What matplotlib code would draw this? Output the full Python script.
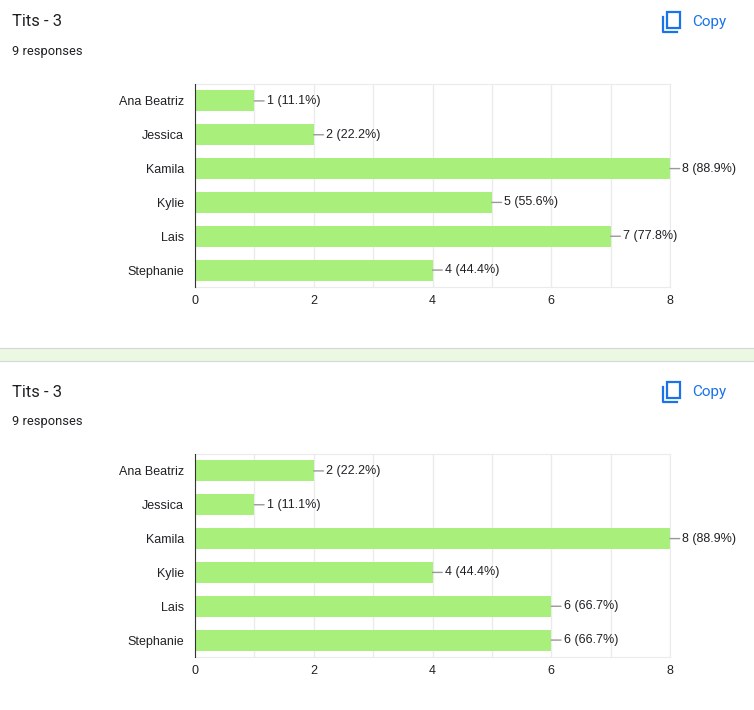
import matplotlib
matplotlib.use("Agg")
import matplotlib.pyplot as plt
from matplotlib.patches import Rectangle
from matplotlib.lines import Line2D

# names and counts for the two charts
names = ["Ana Beatriz", "Jessica", "Kamila", "Kylie", "Lais", "Stephanie"]
counts_top = [1, 2, 8, 5, 7, 4]
counts_bottom = [2, 1, 8, 4, 6, 6]
total_responses = 9
title = "Tits - 3"
x_ticks = [0, 2, 4, 6, 8]

W, H = 754, 710
BAR = "#a8f07b"
BLUE = "#1a73e8"
TXT = "#202124"

fig = plt.figure(figsize=(W / 100, H / 100), dpi=100)


def px_rect(left, top, right, bottom):
    # pixel box -> figure fraction
    return [left / W, 1 - bottom / H, (right - left) / W, (bottom - top) / H]


def header(y):
    fig.text(12 / W, 1 - y / H, title, fontsize=12, color=TXT,
             family="Roboto", va="center", ha="left")
    fig.text(12 / W, 1 - (y + 29) / H, f"{total_responses} responses",
             fontsize=9.3, color=TXT, family="Roboto", va="center", ha="left")
    fig.text(692 / W, 1 - y / H, "Copy", fontsize=11, color=BLUE,
             family="Roboto", va="center", ha="left")
    # copy icon
    fig.add_artist(Rectangle((667 / W, 1 - (y + 6) / H), 13 / W, 16 / H,
                             fill=False, ec=BLUE, lw=1.6,
                             transform=fig.transFigure))
    fig.add_artist(Line2D([663 / W, 663 / W, 677 / W],
                          [1 - (y - 5) / H, 1 - (y + 10) / H, 1 - (y + 10) / H],
                          color=BLUE, lw=1.6, transform=fig.transFigure))


def chart(top, bottom, counts):
    ax = fig.add_axes(px_rect(195, top, 670, bottom))
    ypos = list(range(len(names)))
    ax.barh(ypos, counts, height=0.62, color=BAR, zorder=2)
    ax.set_xlim(0, 8)
    ax.set_ylim(len(names) - 0.5, -0.5)
    ax.set_yticks(ypos)
    ax.set_yticklabels(names, fontsize=9, color=TXT, family="Liberation Sans")
    ax.set_xticks(x_ticks)
    ax.set_xticklabels([str(t) for t in x_ticks], fontsize=9, color=TXT,
                       family="Liberation Sans")
    ax.set_xticks(range(0, 9), minor=True)
    ax.tick_params(which="both", length=0)
    ax.tick_params(axis="x", pad=6)
    ax.tick_params(axis="y", pad=8)
    ax.grid(True, axis="x", which="both", color="#ebebeb", lw=1, zorder=0)
    for s in ["top", "right", "bottom"]:
        ax.spines[s].set_color("#ebebeb")
    ax.spines["left"].set_color("#333333")
    ax.spines["left"].set_zorder(3)
    for yy, c in zip(ypos, counts):
        pct = c / total_responses * 100
        ax.annotate(f"{c} ({pct:.1f}%)", xy=(c, yy), xytext=(9, 0),
                    textcoords="offset points", va="center", ha="left",
                    fontsize=9, color=TXT, family="Liberation Sans",
                    annotation_clip=False,
                    arrowprops=dict(arrowstyle="-", color="#999999", lw=1,
                                    shrinkA=0, shrinkB=0))
    return ax


header(22)
chart(84, 287, counts_top)

# separator band between the two cards
fig.add_artist(Rectangle((0, 1 - 361 / H), 1, 13 / H, fc="#ebf9e3",
                         ec="none", transform=fig.transFigure))
for yy in (348, 361):
    fig.add_artist(Line2D([0, 1], [1 - yy / H, 1 - yy / H], color="#d6d6d6",
                          lw=0.8, transform=fig.transFigure))

header(392)
chart(454, 657, counts_bottom)

fig.savefig("out.png", dpi=100, facecolor="white")
